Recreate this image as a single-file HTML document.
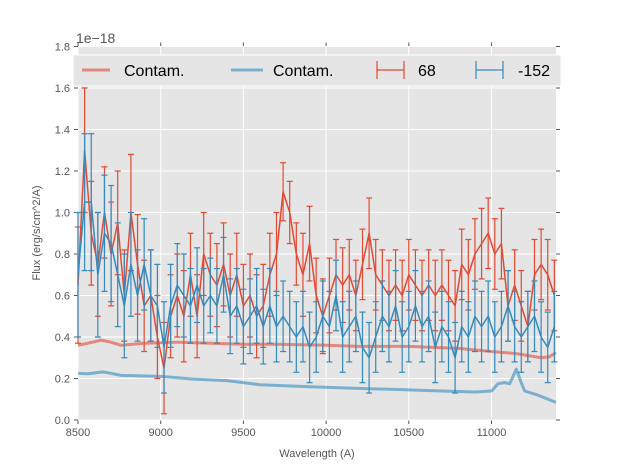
<!DOCTYPE html>
<html><head><meta charset="utf-8"><style>
body{margin:0;background:#fff;font-family:"Liberation Sans",sans-serif}
svg{display:block}
</style></head><body>
<svg id="c" width="617" height="467" xmlns="http://www.w3.org/2000/svg"></svg>
<script>
const redX=[8500,8540,8580,8620,8660,8700,8740,8780,8820,8860,8900,8940,8980,9020,9060,9100,9140,9180,9220,9260,9300,9340,9380,9420,9460,9500,9540,9580,9620,9660,9700,9740,9780,9820,9860,9900,9940,9980,10020,10060,10100,10140,10180,10220,10260,10300,10340,10380,10420,10460,10500,10540,10580,10620,10660,10700,10740,10780,10820,10860,10900,10940,10980,11020,11060,11100,11140,11180,11220,11260,11300,11340,11380];
const redY=[0.65,1.3,0.9,0.75,1.0,0.8,0.95,0.6,1.0,0.75,0.55,0.6,0.4,0.25,0.5,0.6,0.5,0.7,0.5,0.8,0.7,0.65,0.75,0.6,0.7,0.55,0.6,0.5,0.55,0.7,0.8,1.1,1.0,0.8,0.7,0.85,0.6,0.5,0.6,0.7,0.65,0.7,0.6,0.75,0.9,0.7,0.65,0.6,0.65,0.6,0.7,0.65,0.6,0.65,0.6,0.65,0.6,0.55,0.75,0.7,0.8,0.85,0.9,0.8,0.85,0.55,0.65,0.55,0.45,0.7,0.75,0.7,0.6];
const redErr=[0.28,0.3,0.25,0.25,0.22,0.25,0.25,0.22,0.28,0.24,0.22,0.22,0.2,0.22,0.2,0.2,0.22,0.2,0.2,0.2,0.2,0.2,0.2,0.2,0.2,0.2,0.2,0.2,0.2,0.2,0.2,0.14,0.15,0.15,0.2,0.18,0.18,0.18,0.18,0.17,0.18,0.17,0.17,0.17,0.17,0.17,0.17,0.17,0.17,0.17,0.17,0.17,0.17,0.17,0.17,0.17,0.17,0.17,0.17,0.17,0.17,0.17,0.17,0.17,0.17,0.17,0.17,0.17,0.17,0.17,0.17,0.17,0.17];
const blueY=[0.7,1.05,1.05,0.7,0.9,0.85,0.7,0.55,0.75,0.6,0.75,0.6,0.55,0.35,0.55,0.65,0.6,0.55,0.65,0.55,0.6,0.55,0.7,0.5,0.55,0.45,0.5,0.55,0.45,0.55,0.45,0.5,0.45,0.4,0.45,0.35,0.4,0.5,0.45,0.6,0.4,0.45,0.5,0.35,0.3,0.4,0.5,0.45,0.55,0.4,0.45,0.55,0.45,0.5,0.35,0.45,0.4,0.3,0.45,0.4,0.5,0.45,0.5,0.4,0.45,0.55,0.45,0.4,0.45,0.5,0.4,0.35,0.45];
const blueErr=[0.3,0.33,0.33,0.3,0.28,0.28,0.25,0.25,0.25,0.22,0.22,0.22,0.2,0.22,0.2,0.2,0.2,0.18,0.18,0.18,0.18,0.18,0.18,0.18,0.18,0.18,0.18,0.18,0.18,0.18,0.17,0.17,0.17,0.17,0.17,0.17,0.17,0.17,0.17,0.17,0.17,0.17,0.17,0.17,0.17,0.17,0.17,0.17,0.17,0.17,0.17,0.17,0.17,0.17,0.17,0.17,0.17,0.17,0.17,0.17,0.17,0.17,0.17,0.17,0.17,0.17,0.17,0.17,0.17,0.17,0.17,0.17,0.17];
const cRedX=[8500,8560,8640,8700,8760,8900,9100,9300,9500,9700,10000,10200,10500,10800,11000,11150,11300,11350,11390];
const cRedY=[0.36,0.37,0.385,0.375,0.36,0.37,0.375,0.37,0.365,0.365,0.36,0.355,0.355,0.345,0.33,0.32,0.3,0.305,0.325];
const cBlueX=[8500,8560,8650,8700,8760,9000,9200,9400,9600,9900,10100,10500,10700,10900,11000,11040,11080,11110,11150,11180,11200,11280,11390];
const cBlueY=[0.225,0.223,0.232,0.225,0.215,0.21,0.197,0.19,0.17,0.16,0.155,0.145,0.14,0.135,0.14,0.175,0.18,0.175,0.245,0.18,0.14,0.12,0.085];
const xTicks=[8500,9000,9500,10000,10500,11000];
const yTicks=[0,0.2,0.4,0.6,0.8,1.0,1.2,1.4,1.6,1.8];
const L=78,R=556,T=46.5,B=420,X0=8500,X1=11390,Y1=1.8;
const sx=v=>L+(v-X0)/(X1-X0)*(R-L), sy=v=>B-v/Y1*(B-T);
const svg=document.getElementById('c');const NS='http://www.w3.org/2000/svg';
function mk(t,a,p){const e=document.createElementNS(NS,t);for(const k in a)e.setAttribute(k,a[k]);(p||svg).appendChild(e);return e;}
const bg=mk('rect',{x:L,y:T,width:R-L,height:B-T,fill:'#e5e5e5'});


xTicks.forEach(v=>{const x=sx(v);
const g=mk('line',{x1:x,x2:x,y1:T,y2:B,stroke:'#fff','stroke-width':1});


mk('line',{x1:x,x2:x,y1:B,y2:B+4,stroke:'#555'});mk('line',{x1:x,x2:x,y1:T,y2:T-4,stroke:'#555'});
const t=mk('text',{x:x,y:B+16,'text-anchor':'middle','font-size':11,fill:'#555'});t.textContent=v;

});
yTicks.forEach(v=>{const y=sy(v);
const g=mk('line',{x1:L,x2:R,y1:y,y2:y,stroke:'#fff','stroke-width':1});


mk('line',{x1:L-4,x2:L,y1:y,y2:y,stroke:'#555'});mk('line',{x1:R,x2:R+4,y1:y,y2:y,stroke:'#555'});
const t=mk('text',{x:L-8,y:y+4,'text-anchor':'end','font-size':11,fill:'#555'});t.textContent=v.toFixed(1);

});
function line(xs,ys,col,w,op,name){const p=mk('polyline',{points:xs.map((x,i)=>sx(x)+','+sy(ys[i])).join(' '),fill:'none',stroke:col,'stroke-width':w,'stroke-opacity':op,'stroke-linejoin':'round'});

}
line(cRedX,cRedY,'#e24a33',3,0.6,'contam-red-line');
line(cBlueX,cBlueY,'#348abd',3,0.6,'contam-blue-line');
function err(ys,es,col,name){const g=mk('g',{stroke:col,'stroke-width':1.2});


redX.forEach((x,i)=>{const px=sx(x),a=sy(ys[i]-es[i]),b=sy(ys[i]+es[i]);
mk('line',{x1:px,x2:px,y1:a,y2:b},g);mk('line',{x1:px-3,x2:px+3,y1:a,y2:a},g);mk('line',{x1:px-3,x2:px+3,y1:b,y2:b},g);});
line(redX,ys,col,1.5,1,name+'-line');}
err(redY,redErr,'#e24a33','series-68');
err(blueY,blueErr,'#348abd','series-152');
const off=mk('text',{x:76,y:43,'font-size':14,fill:'#555'});off.textContent='1e\u221218';


const xl=mk('text',{x:317,y:457,'text-anchor':'middle','font-size':11,fill:'#555'});xl.textContent='Wavelength (A)';


const yl=mk('text',{x:40,y:233,'text-anchor':'middle','font-size':11,fill:'#555',transform:'rotate(-90 40 233)'});yl.textContent='Flux (erg/s/cm^2/A)';


const lg=mk('g',{});


mk('rect',{x:73,y:55,width:488,height:31,fill:'#e5e5e5',stroke:'#fff','stroke-width':1},lg);
mk('line',{x1:82,x2:110,y1:70,y2:70,stroke:'#e24a33','stroke-opacity':0.6,'stroke-width':3},lg);
mk('line',{x1:231,x2:263,y1:70,y2:70,stroke:'#348abd','stroke-opacity':0.6,'stroke-width':3},lg);
[[377,404,'#e24a33'],[476,503,'#348abd']].forEach(([a,b,c])=>{mk('line',{x1:a,x2:b,y1:70,y2:70,stroke:c,'stroke-width':1.2},lg);
mk('line',{x1:a,x2:a,y1:61,y2:79,stroke:c,'stroke-width':1.2},lg);mk('line',{x1:b,x2:b,y1:61,y2:79,stroke:c,'stroke-width':1.2},lg);});
[[124,'Contam.','legend-contam-red'],[273,'Contam.','legend-contam-blue'],[418,'68','legend-68'],[518,'-152','legend-152']].forEach(([x,s,n])=>{
const t=mk('text',{x:x,y:76,'font-size':16,fill:'#000'},lg);t.textContent=s;

});
</script>
</body></html>
